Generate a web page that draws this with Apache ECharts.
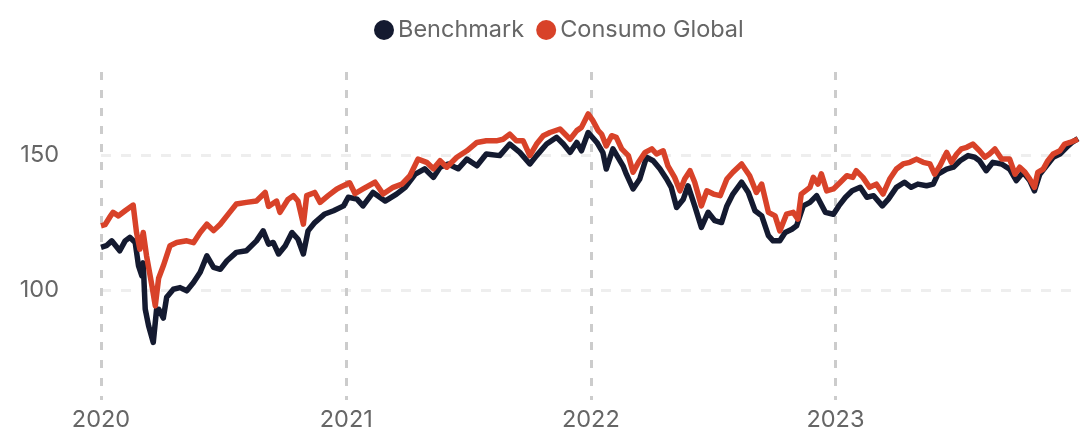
<!DOCTYPE html>
<html>
<head>
<meta charset="utf-8">
<script src="https://cdn.jsdelivr.net/npm/echarts@6/dist/echarts.min.js"></script>
<style>html,body{margin:0;padding:0;background:#fff}#c{width:1085px;height:434px}</style>
</head>
<body>
<div id="c"></div>
<script>
const seriesNames = ['Benchmark', 'Consumo Global'];
const yearTicks = ['2020', '2021', '2022', '2023'];
const yTickLabels = [100, 150];

const benchDates = ['2020-01-01','2020-01-09','2020-01-17','2020-01-29','2020-02-06','2020-02-13','2020-02-21','2020-02-26','2020-03-02','2020-03-04','2020-03-07','2020-03-12','2020-03-19','2020-03-24','2020-03-27','2020-04-03','2020-04-08','2020-04-18','2020-04-28','2020-05-08','2020-05-18','2020-05-28','2020-06-07','2020-06-17','2020-06-27','2020-07-07','2020-07-21','2020-08-05','2020-08-20','2020-08-30','2020-09-07','2020-09-14','2020-09-22','2020-10-02','2020-10-12','2020-10-21','2020-10-29','2020-11-05','2020-11-15','2020-11-30','2020-12-13','2020-12-28',
'2021-01-04','2021-01-17','2021-01-26','2021-02-10','2021-02-28','2021-03-17','2021-03-30','2021-04-14','2021-04-28','2021-05-11','2021-05-21','2021-06-02','2021-06-17','2021-06-30','2021-07-15','2021-07-29','2021-08-18','2021-09-02','2021-09-17','2021-10-02','2021-10-12','2021-10-27','2021-11-11','2021-11-21','2021-12-01','2021-12-11','2021-12-18','2021-12-28',
'2022-01-10','2022-01-19','2022-01-24','2022-02-03','2022-02-18','2022-02-23','2022-03-05','2022-03-15','2022-03-25','2022-04-04','2022-04-14','2022-04-24','2022-05-01','2022-05-09','2022-05-19','2022-05-26','2022-06-05','2022-06-15','2022-06-25','2022-07-05','2022-07-15','2022-07-23','2022-08-01','2022-08-14','2022-08-24','2022-09-03','2022-09-13','2022-09-23','2022-09-30','2022-10-10','2022-10-18','2022-10-28','2022-11-04','2022-11-14','2022-11-24','2022-12-04','2022-12-17','2022-12-29',
'2023-01-06','2023-01-16','2023-01-26','2023-02-07','2023-02-17','2023-02-27','2023-03-12','2023-03-21','2023-04-02','2023-04-14','2023-04-24','2023-05-04','2023-05-17','2023-05-27','2023-06-03','2023-06-16','2023-06-26','2023-07-06','2023-07-18','2023-07-28','2023-08-04','2023-08-14','2023-08-24','2023-09-06','2023-09-18','2023-09-28','2023-10-08','2023-10-18','2023-10-25','2023-11-02','2023-11-12','2023-11-22','2023-12-02','2023-12-12','2023-12-20','2023-12-29'];
const benchValues = [115.8,116.4,118.2,114.5,118.2,119.5,117.6,108.9,105.2,110,92.8,86.6,80.4,92.8,92.8,89.5,97.2,100.2,100.8,99.6,102.7,106.5,112.6,108.3,107.6,110.8,113.9,114.5,118.2,121.9,117,117.6,113.3,116.4,121.3,118.8,113.3,121.9,125,128.2,129.4,131.2,
134.4,133.7,131.2,136.2,133,135.6,138.1,143,145,141.8,145.6,146.8,145,148.6,146.1,150.5,149.9,154.2,151.1,146.8,149.9,154.2,156.7,154.2,151.1,154.8,151.7,158.5,
154.8,151,144.9,152.4,146.1,143,137.5,141.2,149.3,148,145,141.2,138.1,130.6,133.7,138.7,131.2,123.2,128.8,125.7,125,131.2,135.6,140,136.2,129.4,127.5,120.1,118.2,118.2,121.3,122.5,123.8,131.2,132.5,135,128.8,128.1,
131.2,134.4,136.8,138.1,134.4,135,131.2,133.7,138.1,140,138.1,139.3,138.7,139.3,143,144.9,145.6,148,149.9,149.3,148,144.3,147.4,146.8,144.9,140.6,143.7,140.6,136.8,143,146.1,149.3,150.5,153,154.8,156.2];

const consDates = ['2020-01-01','2020-01-07','2020-01-14','2020-01-19','2020-01-27','2020-02-06','2020-02-18','2020-02-23','2020-02-28','2020-03-04','2020-03-09','2020-03-17','2020-03-22','2020-03-27','2020-04-03','2020-04-13','2020-04-23','2020-05-08','2020-05-18','2020-05-28','2020-06-07','2020-06-17','2020-06-27','2020-07-11','2020-07-21','2020-08-05','2020-08-20','2020-09-02','2020-09-07','2020-09-19','2020-09-24','2020-10-06','2020-10-14','2020-10-21','2020-10-29','2020-11-03','2020-11-15','2020-11-23','2020-12-05','2020-12-18','2020-12-23',
'2021-01-06','2021-01-14','2021-01-26','2021-02-13','2021-02-25','2021-03-12','2021-03-25','2021-04-06','2021-04-18','2021-05-01','2021-05-11','2021-05-21','2021-05-31','2021-06-15','2021-06-30','2021-07-15','2021-07-29','2021-08-13','2021-08-23','2021-09-02','2021-09-12','2021-09-22','2021-10-02','2021-10-12','2021-10-22','2021-11-01','2021-11-16','2021-12-01','2021-12-11','2021-12-18','2021-12-28',
'2022-01-04','2022-01-12','2022-01-17','2022-01-24','2022-02-01','2022-02-08','2022-02-16','2022-02-26','2022-03-05','2022-03-13','2022-03-23','2022-04-02','2022-04-09','2022-04-19','2022-04-26','2022-05-06','2022-05-14','2022-05-21','2022-05-29','2022-06-05','2022-06-15','2022-06-23','2022-07-03','2022-07-13','2022-07-23','2022-08-01','2022-08-14','2022-08-26','2022-09-05','2022-09-13','2022-09-23','2022-10-03','2022-10-10','2022-10-20','2022-10-30','2022-11-06','2022-11-11','2022-11-24','2022-11-29','2022-12-06','2022-12-11','2022-12-19','2022-12-29',
'2023-01-08','2023-01-18','2023-01-27','2023-02-01','2023-02-11','2023-02-21','2023-03-03','2023-03-13','2023-03-23','2023-04-02','2023-04-12','2023-04-22','2023-05-02','2023-05-12','2023-05-22','2023-05-29','2023-06-06','2023-06-16','2023-06-23','2023-07-01','2023-07-08','2023-07-16','2023-07-25','2023-08-04','2023-08-12','2023-08-19','2023-08-27','2023-09-06','2023-09-18','2023-09-26','2023-10-03','2023-10-11','2023-10-18','2023-10-25','2023-10-30','2023-11-07','2023-11-14','2023-11-22','2023-12-02','2023-12-09','2023-12-17','2023-12-29'];
const consValues = [123.8,124.2,127,128.8,127.5,129.4,131.5,121.3,115.1,121.3,112.6,101.5,94,104.3,108.9,116.4,117.6,118.2,117.5,121.3,124.4,122,124.4,128.8,131.9,132.5,133,136.2,131,133,128.8,133.6,135,133,124.4,135,136.2,132.5,135,137.5,138.1,
139.8,135.8,137.5,140,135.6,138.1,139.3,142.4,148.6,147.4,145,148,145.6,149.3,151.7,154.8,155.4,155.4,156,157.9,155.4,155.4,149.9,154.2,157.3,158.5,159.8,156,159.2,160.4,165.4,
162.9,159.2,157.9,153.5,157.3,156.7,152.4,149.9,143.7,147.4,151.1,152.4,150.5,151.7,146.1,141.8,136.8,141.2,144.3,140,131.2,136.8,135.6,135,141.2,143.7,146.8,142.4,136.2,139.3,128.8,127.5,121.9,128.1,128.8,126.3,135.6,138.1,141.8,139.3,143.1,136.8,137.5,
139.9,142.4,141.8,144.3,141.8,138.1,139.3,135.6,141.2,144.9,146.8,147.4,148.6,147.4,146.8,143,146.1,151.1,147.4,150.5,152.4,153,154.2,151.7,149.3,150.5,152.4,148.6,148.6,143,145.6,143.7,141.2,138.1,143.7,144.9,148,150.5,151.7,154.2,154.8,156];

const colors = ['#141a30', '#d84229'];
const FONT = 'Inter';
const zip = (d, v) => d.map((x, i) => [x, v[i]]);

const chart = echarts.init(document.getElementById('c'), null, {renderer: 'canvas'});
chart.setOption({
  animation: false,
  color: colors,
  legend: {
    data: seriesNames,
    left: 374, top: 18, padding: 0,
    icon: 'circle', itemWidth: 20, itemHeight: 20, itemGap: 12,
    textStyle: {fontFamily: FONT, fontSize: 23.5, color: '#666', padding: [0, 0, 0, -1]}
  },
  grid: {left: 101, right: 7, top: 72, bottom: 34, containLabel: false, outerBoundsMode: 'none'},
  xAxis: {
    type: 'time',
    min: '2020-01-01', max: '2023-12-29',
    minInterval: 365 * 24 * 3600 * 1000,
    axisLine: {show: false}, axisTick: {show: false},
    axisLabel: {
      fontFamily: FONT, fontSize: 23.5, color: '#666', margin: 8,
      showMaxLabel: false,
      formatter: function (v) {
        const y = String(new Date(v).getFullYear());
        return yearTicks.indexOf(y) >= 0 ? y : '';
      }
    },
    splitLine: {show: true, showMaxLine: false, lineStyle: {color: '#cccccc', width: 3, type: [8, 10]}}
  },
  yAxis: {
    type: 'value',
    min: 59, max: 181, minInterval: 50,
    axisLine: {show: false}, axisTick: {show: false},
    axisLabel: {
      fontFamily: FONT, fontSize: 23.5, color: '#666', margin: 42,
      showMinLabel: false, showMaxLabel: false,
      formatter: function (v) { return yTickLabels.indexOf(v) >= 0 ? String(v) : ''; }
    },
    splitLine: {show: true, showMinLine: false, showMaxLine: false, lineStyle: {color: '#eeeeee', width: 3, type: [10, 10]}}
  },
  series: [
    {name: seriesNames[0], type: 'line', data: zip(benchDates, benchValues), showSymbol: false, lineStyle: {width: 5.5, color: colors[0], join: 'round'}, itemStyle: {color: colors[0]}},
    {name: seriesNames[1], type: 'line', data: zip(consDates, consValues), showSymbol: false, lineStyle: {width: 5.5, color: colors[1], join: 'round'}, itemStyle: {color: colors[1]}}
  ]
});
</script>
</body>
</html>
